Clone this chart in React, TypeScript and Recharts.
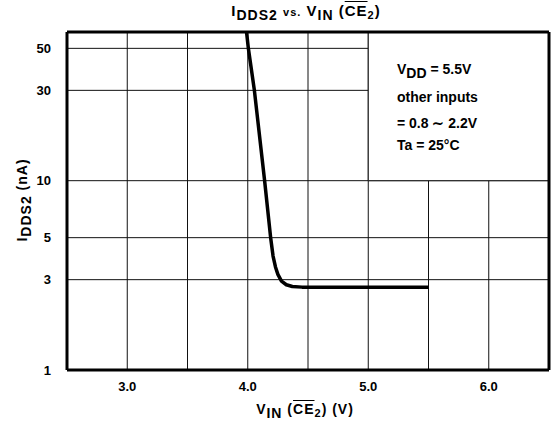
import { LineChart, Line, XAxis, YAxis, CartesianGrid, ReferenceArea, ReferenceLine } from "recharts"

const vin = [3.99, 4.005, 4.055, 4.14, 4.19, 4.21, 4.23, 4.25, 4.28, 4.32, 4.37, 4.45, 5.0, 5.5]
const iddS2 = [61, 50, 30, 10, 5, 4.0, 3.5, 3.2, 2.95, 2.82, 2.76, 2.74, 2.74, 2.74]
const xTicks = [2.5, 3.0, 3.5, 4.0, 4.5, 5.0, 5.5, 6.0, 6.5]
const xLabels = [3, 4, 5, 6]
const yTicks = [1, 3, 5, 10, 30, 50]

const data = vin.map((v, i) => ({ vin: v, idd: iddS2[i] }))

const font = "'Liberation Sans', Arial, sans-serif"
const tickStyle = { fill: "#000", fontSize: 13, fontWeight: 700, fontFamily: font }
const subStyle = { fontSize: 14, verticalAlign: -4, lineHeight: 0 }

export default function App() {
  return (
    <div style={{ position: "absolute", left: 0, top: 0, width: 556, height: 427, background: "#fff", fontFamily: font, color: "#000" }}>
      <LineChart width={556} height={427} data={data} margin={{ top: 32, right: 7, bottom: 27, left: 0 }}>
        <CartesianGrid stroke="#111" strokeWidth={1} />
        <XAxis
          dataKey="vin"
          type="number"
          domain={[2.5, 6.5]}
          ticks={xTicks}
          tickFormatter={(v: number) => (xLabels.includes(v) ? v.toFixed(1) : "")}
          tickLine={false}
          axisLine={{ stroke: "#000", strokeWidth: 3 }}
          tick={tickStyle}
          tickMargin={6}
          height={30}
        />
        <YAxis
          scale="log"
          domain={[1, 61]}
          allowDataOverflow
          ticks={yTicks}
          tickLine={false}
          axisLine={{ stroke: "#000", strokeWidth: 3 }}
          tick={tickStyle}
          tickMargin={10}
          width={67}
        />
        <ReferenceArea x1={5.0} x2={6.5} y1={10} y2={61} fill="#fff" fillOpacity={1} stroke="#111" strokeWidth={1} />
        <ReferenceLine y={61} stroke="#000" strokeWidth={3} />
        <ReferenceLine x={6.5} stroke="#000" strokeWidth={3} />
        <Line dataKey="idd" type="linear" stroke="#000" strokeWidth={3.5} strokeLinejoin="round" dot={false} isAnimationActive={false} />
      </LineChart>

      <div style={{ position: "absolute", left: 0, width: 612, top: 2, textAlign: "center", fontSize: 15, fontWeight: 700, letterSpacing: 1, whiteSpace: "nowrap", lineHeight: "18px" }}>
        I<span style={subStyle}>DDS2</span> <span style={{ fontSize: 11 }}>vs.</span> V<span style={subStyle}>IN</span> (<span style={{ textDecoration: "overline" }}>CE</span><span style={{ fontSize: 11, verticalAlign: -3 }}>2</span>)
      </div>

      <div style={{ position: "absolute", left: 22, top: 200, transform: "translate(-50%, -50%) rotate(-90deg)", fontSize: 14, fontWeight: 700, letterSpacing: 1, whiteSpace: "nowrap", lineHeight: "18px" }}>
        I<span style={subStyle}>DDS2</span> (nA)
      </div>

      <div style={{ position: "absolute", left: 0, width: 610, top: 400, textAlign: "center", fontSize: 14, fontWeight: 700, letterSpacing: 1, whiteSpace: "nowrap", lineHeight: "18px" }}>
        V<span style={subStyle}>IN</span> (<span style={{ textDecoration: "overline" }}>CE</span><span style={{ fontSize: 11, verticalAlign: -3 }}>2</span>) (V)
      </div>

      <div style={{ position: "absolute", left: 397, top: 56, fontSize: 14, fontWeight: 700, lineHeight: "26px", whiteSpace: "nowrap" }}>
        <div>V<span style={{ fontSize: 14, verticalAlign: -4 }}>DD</span> = 5.5V</div>
        <div style={{ marginTop: -2 }}>other inputs</div>
        <div>= 0.8 ∼ 2.2V</div>
        <div style={{ marginTop: -4 }}>Ta = 25°C</div>
      </div>
    </div>
  )
}
